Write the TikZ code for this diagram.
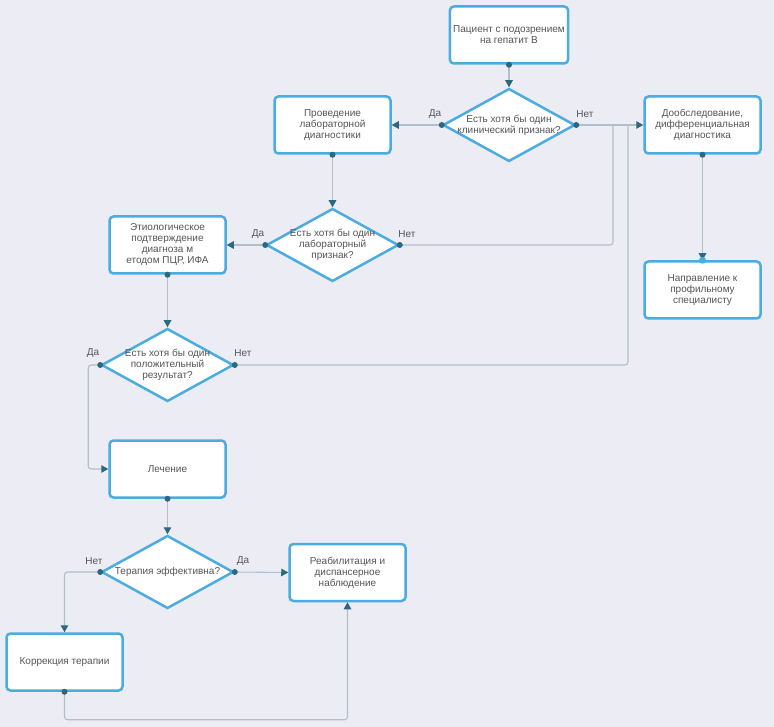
\documentclass[tikz,border=0pt]{standalone}
\usepackage{fontspec}
\setmainfont{Liberation Sans}
\usetikzlibrary{arrows.meta,shapes.geometric}
\definecolor{bgc}{RGB}{236,236,245}
\definecolor{boxc}{RGB}{75,172,223}
\definecolor{linec}{RGB}{178,190,200}
\definecolor{tipc}{RGB}{44,104,126}
\definecolor{txtc}{RGB}{85,85,90}
\tikzset{
  stepbox/.style={draw=boxc, line width=2.5pt, fill=white, rounded corners=4pt,
    minimum width=116pt, minimum height=57pt, align=center, text=txtc,
    font=\fontsize{10}{11}\selectfont},
  decision/.style={diamond, draw=boxc, line width=2.5pt, fill=white, aspect=1.79,
    minimum width=132pt, minimum height=73pt, inner xsep=-10pt, inner ysep=-4pt,
    align=center, text=txtc, font=\fontsize{10}{11}\selectfont},
  conn/.style={draw=linec, line width=1.1pt, rounded corners=3pt,
    -{Triangle[width=7.5pt,length=7pt,color=tipc]}},
  plain/.style={draw=linec, line width=1.1pt, rounded corners=3pt},
  lbl/.style={text=txtc, font=\fontsize{10}{11}\selectfont, inner sep=1pt},
  dot/.style={fill=tipc}
}
\begin{document}
\begin{tikzpicture}[x=1pt,y=-1pt]
		%%%%% START %%%%%
		
		\fill[bgc] (0,0) rectangle (774,727);
		\useasboundingbox (0,0) rectangle (774,727);
		
		% boxes
		\node[stepbox] (pat) at (509,35) {Пациент с подозрением\\на гепатит В};
		\node[stepbox] (lab) at (332.5,125) {Проведение\\лабораторной\\диагностики};
		\node[stepbox] (dop) at (702.5,125) {Дообследование,\\дифференциальная\\диагностика};
		\node[stepbox] (etio) at (167.5,245) {Этиологическое\\подтверждение\\диагноза м\\етодом ПЦР, ИФА};
		\node[stepbox] (napr) at (702.5,290) {Направление к\\профильному\\специалисту};
		\node[stepbox] (lech) at (167.5,469) {Лечение};
		\node[stepbox] (reab) at (347.5,572.5) {Реабилитация и\\диспансерное\\наблюдение};
		\node[stepbox] (korr) at (64.5,662) {Коррекция терапии};
		
		% decisions
		\node[decision] (klin) at (509,125) {Есть хотя бы один\\клинический признак?};
		\node[decision] (labq) at (332.5,245) {Есть хотя бы один\\лабораторный\\признак?};
		\node[decision] (pos) at (167.5,365) {Есть хотя бы один\\положительный\\результат?};
		\node[decision] (eff) at (167.5,572) {Терапия эффективна?};
		
		% labels
		\node[lbl] (klinda) at (435,114) {Да};
		\node[lbl] (klinnet) at (585,114) {Нет};
		\node[lbl] (labda) at (258,234) {Да};
		\node[lbl] (labnet) at (407,234) {Нет};
		\node[lbl] (posda) at (93,353) {Да};
		\node[lbl] (posnet) at (243,353) {Нет};
		\node[lbl] (effnet) at (94,561) {Нет};
		\node[lbl] (effda) at (243,561) {Да};
		
		\coordinate (j1) at (613,125);
		\coordinate (j2) at (628,125);
		
		% connectors
		\draw[conn] (pat.south) -- (klin.north);
		\draw[conn] (klin.west) -- (lab.east);
		\draw[conn] (klin.east) -- (dop.west);
		\draw[conn] (lab.south) -- (labq.north);
		\draw[conn] (labq.west) -- (etio.east);
		\draw[plain] (labq.east) -| (j1);
		\draw[conn] (etio.south) -- (pos.north);
		\draw[plain] (pos.east) -| (j2);
		\draw[conn] (pos.west) -- ++(-12,0) |- (lech.west);
		\draw[conn] (lech.south) -- (eff.north);
		\draw[conn] (eff.east) -- (reab.west);
		\draw[conn] (eff.west) -| (korr.north);
		\draw[conn] (korr.south) -- ++(0,28) -| (reab.south);
		\draw[conn] (dop.south) -- (napr.north);
		
		% dots
		\fill[boxc] (napr.north) circle (3.5);
		\foreach \p in {pat.south, lab.south, dop.south, etio.south, lech.south, korr.south,
		  klin.west, klin.east, labq.west, labq.east, pos.west, pos.east, eff.west, eff.east}
		  \fill[dot] (\p) circle (3);
		
		%%%%% END %%%%%
\end{tikzpicture}
\end{document}
